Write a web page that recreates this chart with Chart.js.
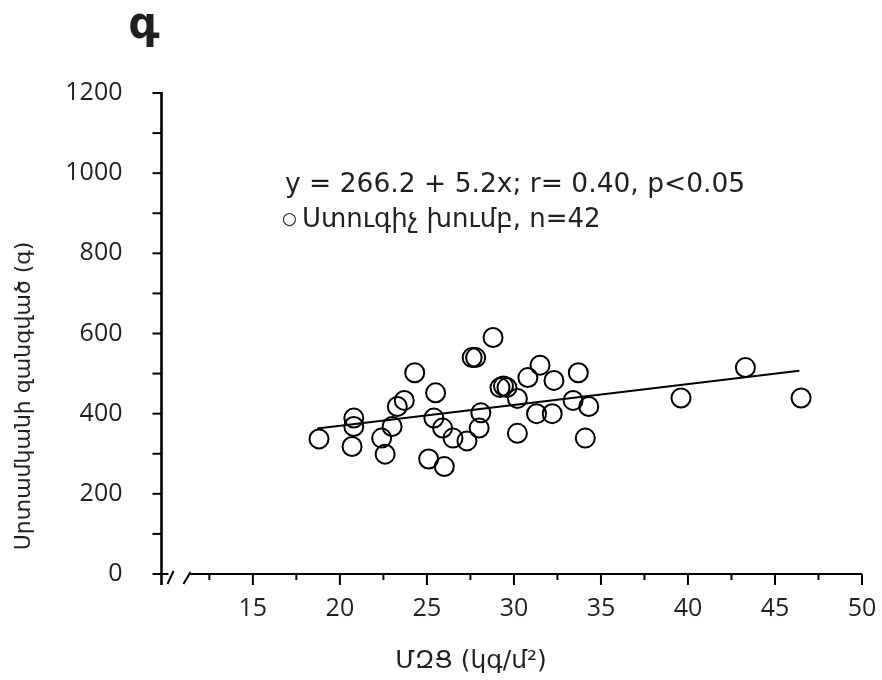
<!DOCTYPE html>
<html>
<head>
<meta charset="utf-8">
<script src="https://cdn.jsdelivr.net/npm/chart.js@4.4.0/dist/chart.umd.min.js"></script>
<style>
    body { margin: 0; background: #fff; }
    #wrap { width: 882px; height: 680px; }
</style>
</head>
<body>
<div id="wrap"><canvas id="chart" width="882" height="680"></canvas></div>
<script>
// ------------------ données ------------------
const bmi  = [18.8, 20.7, 20.8, 20.8, 22.4, 22.6, 23.0, 23.3, 23.7, 24.3,
              25.1, 25.4, 25.5, 25.9, 26.0, 26.5, 27.3, 27.6, 27.8, 28.0,
              28.1, 28.8, 29.2, 29.4, 29.6, 30.2, 30.2, 30.8, 31.3, 31.5,
              32.2, 32.3, 33.4, 33.7, 34.1, 34.3, 39.6, 43.3, 46.5];
const mass = [337, 318, 389, 368, 339, 299, 368, 418, 433, 502,
              287, 389, 452, 364, 268, 339, 332, 540, 540, 364,
              402, 590, 465, 469, 465, 438, 351, 490, 400, 521,
              400, 483, 433, 502, 339, 418, 439, 515, 439];
const fitX = [18.7, 46.4];
const fitY = [363, 507];

const xTicks = [12.5, 15, 17.5, 20, 22.5, 25, 27.5, 30, 32.5, 35, 37.5, 40, 42.5, 45, 47.5, 50];
const yTicks = [0, 100, 200, 300, 400, 500, 600, 700, 800, 900, 1000, 1100, 1200];

const panelLabel = 'գ';
const fitText = 'y = 266.2 + 5.2x; r= 0.40, p<0.05';
const legendMark = '○';
const legendText = 'Ստուգիչ խումբ, n=42';
const xTitle = 'ՄԶՑ (կգ/մ²)';
const yTitle = 'Սրտամկանի զանգված (գ)';

const ink = '#231f20';

// ------------------ axes dessinés à la main (coupure de l'axe x) ------------------
const axesPlugin = {
    id: 'axes',
    afterDraw(chart) {
        const ctx = chart.ctx;
        const xs = chart.scales.x, ys = chart.scales.y;
        const x0 = xs.left;
        const y0 = ys.getPixelForValue(0);
        const line = (a, b, c, d) => { ctx.beginPath(); ctx.moveTo(a, b); ctx.lineTo(c, d); ctx.stroke(); };

        ctx.save();
        ctx.strokeStyle = '#000';

        // axe y
        ctx.lineWidth = 2.6;
        line(x0, ys.getPixelForValue(1200) - 1, x0, y0 + 11);
        ctx.lineWidth = 2;
        yTicks.forEach(v => {
            const py = ys.getPixelForValue(v);
            line(x0 - 9, py, x0, py);
        });

        // axe x avec coupure
        line(x0, y0, x0 + 7, y0);
        line(x0 + 6, y0 + 10, x0 + 12, y0 - 3);
        line(x0 + 22, y0 + 10, x0 + 29, y0 - 2);
        line(x0 + 28, y0, xs.right, y0);
        xTicks.forEach(v => {
            const px = xs.getPixelForValue(v);
            const len = v % 5 === 0 ? 11 : 6;
            line(px, y0, px, y0 + len);
        });

        // textes
        ctx.fillStyle = ink;
        ctx.textBaseline = 'alphabetic';
        ctx.textAlign = 'center';
        ctx.font = 'bold 44px "DejaVu Sans"';
        ctx.fillText(panelLabel, 144, 38);

        ctx.textAlign = 'left';
        ctx.font = '26.5px "DejaVu Sans"';
        ctx.fillText(fitText, 285, 192);
        ctx.font = '17px "DejaVu Sans"';
        ctx.fillText(legendMark, 282, 224);
        ctx.font = '26px "DejaVu Sans"';
        ctx.fillText(legendText, 302, 227);

        ctx.textAlign = 'center';
        ctx.font = '25px "DejaVu Sans"';
        ctx.fillText(xTitle, 471, 668);

        ctx.font = '22px "DejaVu Sans"';
        ctx.translate(30, 396);
        ctx.rotate(-Math.PI / 2);
        ctx.fillText(yTitle, 0, 0);
        ctx.restore();
    }
};

const tickFont = { family: '"Open Sans"', size: 25 };

new Chart(document.getElementById('chart'), {
    type: 'scatter',
    data: {
        datasets: [{
            label: 'Ստուգիչ խումբ',
            data: bmi.map((v, i) => ({ x: v, y: mass[i] })),
            pointStyle: 'circle',
            pointRadius: 9.5,
            borderWidth: 2,
            borderColor: '#000',
            backgroundColor: 'rgba(0,0,0,0)',
            clip: false
        }, {
            type: 'line',
            label: 'fit',
            data: fitX.map((v, i) => ({ x: v, y: fitY[i] })),
            borderColor: '#000',
            borderWidth: 2,
            pointRadius: 0,
            fill: false
        }]
    },
    options: {
        responsive: false,
        animation: false,
        events: [],
        layout: { padding: { left: 0, top: 93, right: 20, bottom: 0 } },
        plugins: { legend: { display: false }, tooltip: { enabled: false } },
        scales: {
            x: {
                type: 'linear',
                min: 9.75,
                max: 50,
                grid: { display: false },
                border: { display: false },
                afterBuildTicks: s => { s.ticks = xTicks.map(v => ({ value: v })); },
                afterFit: s => { s.height = 106; s.paddingLeft = 0; s.paddingRight = 0; },
                ticks: {
                    autoSkip: false,
                    maxRotation: 0,
                    padding: 12,
                    color: ink,
                    font: tickFont,
                    callback: v => (v % 5 === 0 ? v : '')
                }
            },
            y: {
                min: 0,
                max: 1200,
                grid: { display: false },
                border: { display: false },
                afterBuildTicks: s => { s.ticks = yTicks.map(v => ({ value: v })); },
                afterFit: s => { s.width = 161.5; s.paddingTop = 0; s.paddingBottom = 0; },
                ticks: {
                    autoSkip: false,
                    padding: 31,
                    color: ink,
                    font: tickFont,
                    callback: v => (v % 200 === 0 ? v : '')
                }
            }
        }
    },
    plugins: [axesPlugin]
});
</script>
</body>
</html>
